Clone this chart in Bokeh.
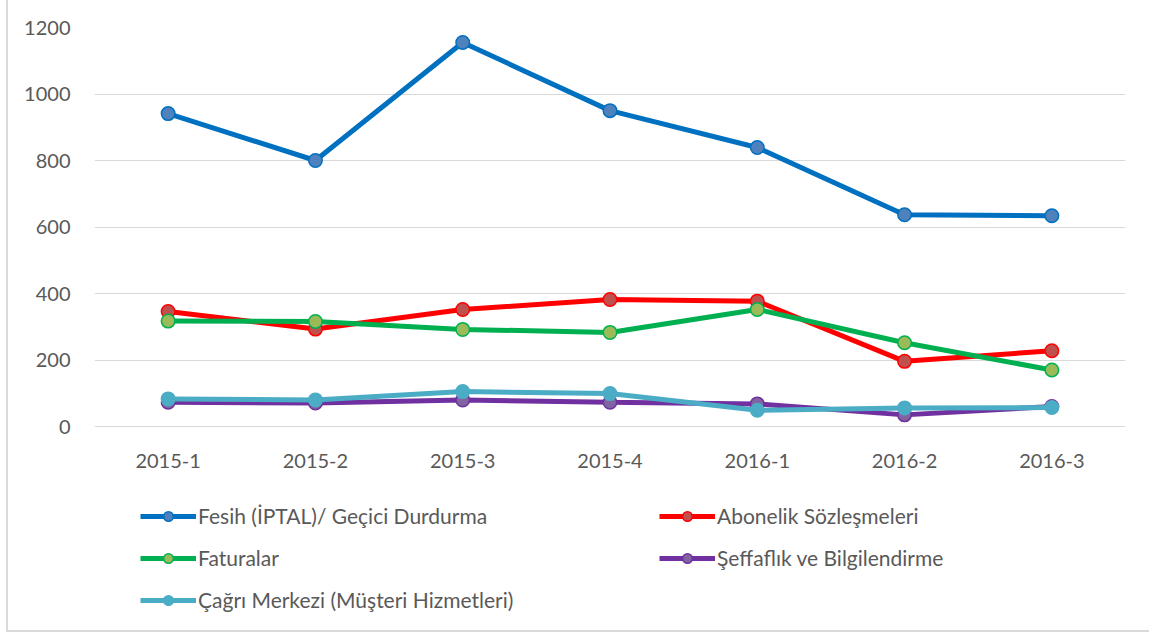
from bokeh.plotting import figure
from bokeh.models import Range1d, FixedTicker, Legend, LegendItem
from bokeh.embed import file_html
from bokeh.resources import INLINE

periods = ["2015-1", "2015-2", "2015-3", "2015-4", "2016-1", "2016-2", "2016-3"]
fesih = [941, 800, 1155, 950, 839, 637, 634]
abonelik = [346, 293, 352, 382, 377, 196, 228]
faturalar = [317, 316, 292, 283, 352, 252, 170]
seffaflik = [73, 71, 80, 73, 68, 35, 60]
cagri = [83, 80, 105, 99, 49, 56, 57]
y_ticks = [0, 200, 400, 600, 800, 1000, 1200]

series = [
    ("Fesih (İPTAL)/ Geçici Durdurma", fesih, "#0070C0", "#4F81BD", "#0070C0"),
    ("Abonelik Sözleşmeleri", abonelik, "#FF0000", "#C0504D", "#FF0000"),
    ("Faturalar", faturalar, "#00B050", "#9BBB59", "#00B050"),
    ("Şeffaflık ve Bilgilendirme", seffaflik, "#7030A0", "#8064A2", "#7030A0"),
    ("Çağrı Merkezi (Müşteri Hizmetleri)", cagri, "#4BACC6", "#4BACC6", "#4BACC6"),
]

FONT = "Lato"
TXT = "#595959"

# frame spans down to the bottom of the chart so the legend can sit inside it;
# 0..1200 occupies 399px, the remaining space below 0 holds axis labels + legend
p = figure(x_range=periods, width=1143, height=632, output_backend="svg",
           toolbar_location=None, min_border_left=86, min_border_right=26,
           min_border_top=27, min_border_bottom=0)
p.styles = {"margin-left": "6px", "border-left": "2px solid #D9D9D9",
            "border-bottom": "2px solid #D9D9D9"}
p.y_range = Range1d(-619.5, 1200)
p.outline_line_color = None
p.xgrid.grid_line_color = None
p.ygrid.grid_line_color = "#D9D9D9"
p.ygrid.grid_line_width = 1
p.yaxis.ticker = FixedTicker(ticks=y_ticks)
p.xaxis.fixed_location = 0
for ax in (p.xaxis[0], p.yaxis[0]):
    ax.axis_line_color = None
    ax.major_tick_line_color = None
    ax.minor_tick_line_color = None
    ax.major_label_text_font = FONT
    ax.major_label_text_font_size = "20px"
    ax.major_label_text_color = TXT
p.yaxis.major_label_standoff = 18
p.xaxis.major_label_standoff = 21

items = []
for name, vals, lc, fc, ec in series:
    r1 = p.line(periods, vals, line_color=lc, line_width=5)
    r2 = p.scatter(periods, vals, size=13.5, fill_color=fc, line_color=ec, line_width=1.5)
    items.append(LegendItem(label=name, renderers=[r1, r2]))

legend = Legend(items=items, orientation="horizontal", ncols=2,
                label_text_font=FONT, label_text_font_size="21px",
                label_text_color=TXT, glyph_width=56, glyph_height=24,
                label_height=24, label_standoff=2, label_width=444, spacing=17,
                margin=0, padding=0, border_line_color=None,
                background_fill_alpha=0, location=(46, 20))
p.add_layout(legend, "center")

open("out.html", "w").write(file_html(p, INLINE))
